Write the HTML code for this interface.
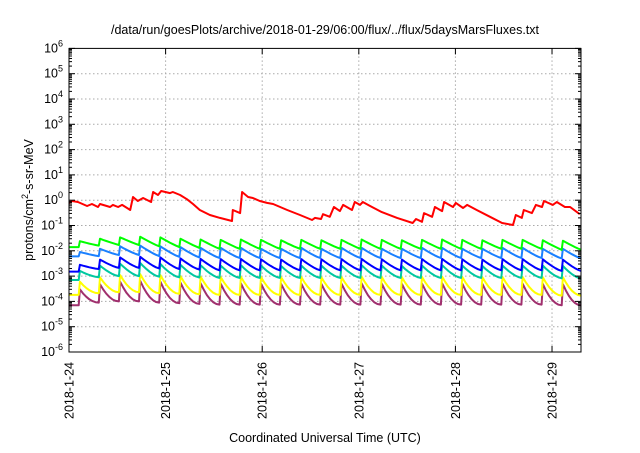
<!DOCTYPE html>
<html><head><meta charset="utf-8">
<style>
body{margin:0;background:#fff;width:640px;height:448px;overflow:hidden;font-family:"Liberation Sans",sans-serif}
svg text{font-family:"Liberation Sans",sans-serif;fill:#000}
</style></head>
<body>
<svg id="c" width="640" height="448" viewBox="0 0 640 448" xmlns="http://www.w3.org/2000/svg">
<text x="325" y="34" font-size="12.5" text-anchor="middle">/data/run/goesPlots/archive/2018-01-29/06:00/flux/../flux/5daysMarsFluxes.txt</text>
<text x="325" y="442" font-size="12.5" text-anchor="middle">Coordinated Universal Time (UTC)</text>
<text transform="translate(33,200) rotate(-90)" font-size="12.5" text-anchor="middle">protons/cm<tspan font-size="9" dy="-5">2</tspan><tspan dy="5">-s-sr-MeV</tspan></text>
<g id="grid"></g>
<g id="series"></g>
<g id="axes"></g>
</svg>
<script>
const dayLabels=["2018-1-24","2018-1-25","2018-1-26","2018-1-27","2018-1-28","2018-1-29"];
const decades=[-6,-5,-4,-3,-2,-1,0,1,2,3,4,5,6];
const redHours=[0,0.75,2.2,4.5,5.7,7.2,7.7,10.2,10.9,12.2,13.2,15.2,15.9,17.1,18.4,20.4,20.9,22.1,22.9,25.1,25.8,27.6,29.3,30.8,32.5,35,37.5,40.5,40.7,42.5,43,44.5,45.7,47.4,49.2,50.7,54.2,57.4,60.4,61.1,62.6,63.1,64.8,65.8,67.3,68.1,70.3,71,72.3,73,74.8,77.7,81.5,85.4,86.2,87.7,88.2,90.2,90.9,92.7,93.2,95.4,96.1,97.9,98.9,101.3,104.6,107.6,110.3,111,112.5,113,115,116,117.5,118,120.2,121.2,123.2,124.5,126.9];
const redValues=[0.78,0.93,0.85,0.59,0.71,0.54,0.71,0.54,0.65,0.54,0.65,0.41,1.34,0.93,1.22,0.85,2.1,1.6,2.3,1.9,2.1,1.6,1.1,0.71,0.41,0.26,0.2,0.15,0.41,0.31,2.1,1.34,1.22,0.93,0.78,0.71,0.41,0.26,0.165,0.2,0.18,0.28,0.22,0.54,0.37,0.65,0.41,0.85,0.65,0.85,0.59,0.34,0.2,0.126,0.18,0.14,0.31,0.22,0.54,0.37,0.85,0.54,0.78,0.49,0.65,0.41,0.22,0.126,0.105,0.26,0.2,0.41,0.31,0.65,0.54,0.93,0.65,0.85,0.54,0.54,0.28];
const peakHours=[2.7,7.7,12.7,17.7,22.7,27.7,32.7,37.7,42.7,47.7,52.7,57.7,62.7,67.7,72.7,77.7,82.7,87.7,92.7,97.7,102.7,107.7,112.7,117.7,122.7];
const greenPeaks=[0.024,0.03,0.034,0.036,0.034,0.03,0.028,0.027,0.028,0.027,0.026,0.027,0.026,0.027,0.028,0.027,0.026,0.027,0.028,0.027,0.026,0.027,0.027,0.026,0.025];
const greenTroughs=[0.014,0.016,0.017,0.017,0.015,0.014,0.013,0.012,0.012,0.012,0.012,0.012,0.012,0.012,0.012,0.012,0.012,0.012,0.012,0.012,0.012,0.012,0.012,0.012,0.011,0.011];
const ltbluePeaks=[0.009,0.012,0.015,0.016,0.015,0.014,0.013,0.013,0.013,0.012,0.012,0.013,0.012,0.013,0.013,0.012,0.012,0.013,0.013,0.012,0.012,0.013,0.013,0.012,0.012];
const ltblueTroughs=[0.006,0.0062,0.0068,0.0068,0.0062,0.0058,0.0055,0.0052,0.0052,0.0052,0.0052,0.0052,0.0052,0.0052,0.0052,0.0052,0.0052,0.0052,0.0052,0.0052,0.0052,0.0052,0.0052,0.0052,0.005,0.005];
const bluePeaks=[0.0028,0.0045,0.0055,0.0058,0.0055,0.005,0.0048,0.0047,0.0048,0.0046,0.0045,0.0047,0.0046,0.0047,0.0048,0.0046,0.0045,0.0047,0.0048,0.0046,0.0045,0.0047,0.0047,0.0046,0.0045];
const blueTroughs=[0.0015,0.0019,0.0021,0.0021,0.002,0.0019,0.0018,0.0017,0.0017,0.0017,0.0017,0.0017,0.0017,0.0017,0.0017,0.0017,0.0017,0.0017,0.0017,0.0017,0.0017,0.0017,0.0017,0.0017,0.0016,0.0016];
const tealPeaks=[0.0016,0.0026,0.0031,0.0033,0.003,0.0028,0.0027,0.0026,0.0027,0.0026,0.0025,0.0026,0.0026,0.0026,0.0027,0.0026,0.0025,0.0026,0.0027,0.0026,0.0025,0.0026,0.0026,0.0026,0.0025];
const tealTroughs=[0.0007,0.0009,0.001,0.001,0.00095,0.0009,0.00088,0.00085,0.00085,0.00085,0.00085,0.00085,0.00085,0.00085,0.00085,0.00085,0.00085,0.00085,0.00085,0.00085,0.00085,0.00085,0.00085,0.00085,0.00082,0.0008];
const yellowPeaks=[0.0006,0.0009,0.0011,0.0012,0.0011,0.001,0.00095,0.00092,0.00095,0.00092,0.0009,0.00092,0.0009,0.00092,0.00095,0.00092,0.0009,0.00092,0.00095,0.00092,0.0009,0.00092,0.00092,0.0009,0.0009];
const yellowTroughs=[0.00018,0.00021,0.00023,0.00023,0.00021,0.0002,0.00019,0.00018,0.00018,0.00018,0.00018,0.00018,0.00018,0.00018,0.00018,0.00018,0.00018,0.00018,0.00018,0.00018,0.00018,0.00018,0.00018,0.00018,0.00017,0.00017];
const purplePeaks=[0.0003,0.00048,0.0006,0.00065,0.0006,0.00055,0.00052,0.0005,0.00052,0.0005,0.00049,0.0005,0.00049,0.0005,0.00052,0.0005,0.00049,0.0005,0.00052,0.0005,0.00049,0.0005,0.0005,0.00049,0.00048];
const purpleTroughs=[0.00007,0.00009,0.0001,0.0001,0.00009,0.000085,0.00008,0.000075,0.000075,0.000075,0.000075,0.000075,0.000075,0.000075,0.000075,0.000075,0.000075,0.000075,0.000075,0.000075,0.000075,0.000075,0.000075,0.000075,0.00007,0.00007];

const L=69,R=581,T=48.4,B=352,H0=0,H1=127.2;
const xs=h=>L+(h-H0)/(H1-H0)*(R-L);
const ys=v=>B-(Math.log10(v)+6)/12*(B-T);
const NS="http://www.w3.org/2000/svg";
function mk(tag,attrs,parent){const e=document.createElementNS(NS,tag);for(const k in attrs)e.setAttribute(k,attrs[k]);parent.appendChild(e);return e;}
const grid=document.getElementById('grid'),axes=document.getElementById('axes'),ser=document.getElementById('series');

decades.forEach(d=>{
  const y=ys(Math.pow(10,d));
  if(d>-6&&d<6){const g=mk('line',{x1:L,x2:R,y1:y,y2:y,stroke:'#aaa','stroke-width':1,'stroke-dasharray':'1.5,2.5'},grid);
  }
  mk('line',{x1:L,x2:L+6,y1:y,y2:y,stroke:'#000'},axes);
  mk('line',{x1:R,x2:R-6,y1:y,y2:y,stroke:'#000'},axes);
  for(let m=2;m<10&&d<6;m++){const ym=ys(m*Math.pow(10,d));mk('line',{x1:L,x2:L+3,y1:ym,y2:ym,stroke:'#000'},axes);mk('line',{x1:R,x2:R-3,y1:ym,y2:ym,stroke:'#000'},axes);}
  const t=mk('text',{x:L-6,y:y+4,'font-size':12.5,'text-anchor':'end'},axes);
  
  t.textContent='10';const s=mk('tspan',{'font-size':9,dy:-6},t);s.textContent=String(d);
});
dayLabels.forEach((lab,i)=>{
  const x=xs(i*24);
  if(i>0){const g=mk('line',{x1:x,x2:x,y1:T,y2:B,stroke:'#aaa','stroke-width':1,'stroke-dasharray':'1.5,2.5'},grid);
  }
  mk('line',{x1:x,x2:x,y1:B,y2:B-6,stroke:'#000'},axes);mk('line',{x1:x,x2:x,y1:T,y2:T+6,stroke:'#000'},axes);
  const t=mk('text',{transform:`translate(${x+4.5},${B+10}) rotate(-90)`,'font-size':12.5,'text-anchor':'end'},axes);
  
  t.textContent=lab;
});
const fr=mk('rect',{x:L,y:T,width:R-L,height:B-T,fill:'none',stroke:'#000','stroke-width':1},axes);


function saw(peaks,troughs,curv){
  const pts=[[0,troughs[0]]];
  peakHours.forEach((ph,i)=>{
    pts.push([ph-0.3,troughs[i]]);
    pts.push([ph,peaks[i]]);
    const end=i+1<peakHours.length?peakHours[i+1]-0.3:H1;
    const nt=troughs[i+1];
    for(let k=1;k<=6;k++){const f=k/6;const g=1-Math.pow(1-f,curv);
      const lv=Math.log10(peaks[i])+(Math.log10(nt)-Math.log10(peaks[i]))*g;
      pts.push([ph+(end-ph)*f,Math.pow(10,lv)]);}
  });
  return pts;
}
function draw(pts,color,name){
  const d=pts.filter(p=>p[0]<=H1).map((p,i)=>(i?'L':'M')+xs(p[0]).toFixed(1)+','+ys(p[1]).toFixed(1)).join(' ');
  const p=mk('path',{d:d,fill:'none',stroke:color,'stroke-width':2,'stroke-linejoin':'round'},ser);
  
}
draw(saw(purplePeaks,purpleTroughs,2.0),'#a0306e','series-purple');
draw(saw(yellowPeaks,yellowTroughs,1.9),'#ffff00','series-yellow');
draw(saw(tealPeaks,tealTroughs,1.5),'#00c8a0','series-teal');
draw(saw(bluePeaks,blueTroughs,1.3),'#0000ff','series-blue');
draw(saw(ltbluePeaks,ltblueTroughs,1.2),'#1a80ff','series-lightblue');
draw(saw(greenPeaks,greenTroughs,1.1),'#00ff00','series-green');
draw(redHours.map((h,i)=>[h,redValues[i]]),'#ff0000','series-red');
</script>
</body></html>
